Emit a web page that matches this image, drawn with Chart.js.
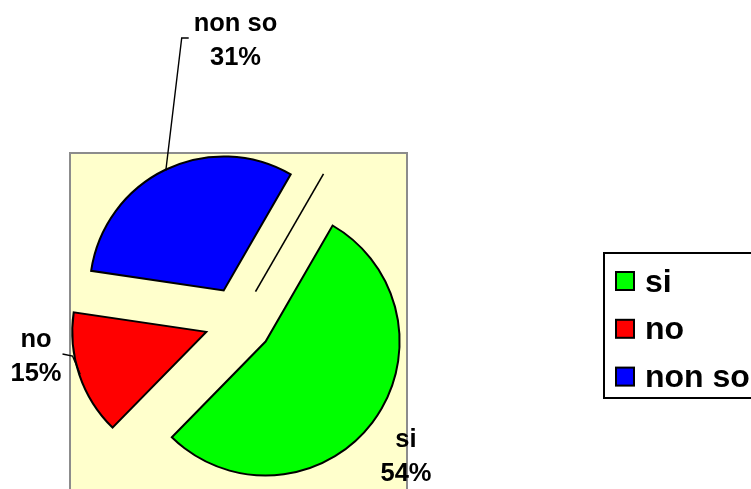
<!DOCTYPE html>
<html>
<head>
<meta charset="utf-8">
<title>si / no / non so</title>
<script src="https://cdn.jsdelivr.net/npm/chart.js@4/dist/chart.umd.min.js"></script>
<style>
  html, body { margin: 0; padding: 0; background: #fff; overflow: hidden; }
  canvas { display: block; }
</style>
</head>
<body>
<canvas id="pie" width="751" height="489"></canvas>
<script>
// --- data ---
const labels = ['si', 'no', 'non so'];
const values = [54, 15, 31];
const colors = ['#00ff00', '#ff0000', '#0000ff'];

const FONT = '"Liberation Sans", Arial, sans-serif';

// yellow plot area with grey frame (bottom edge runs off the picture)
const plotArea = {
  id: 'plotArea',
  beforeDraw(chart, args, opts) {
    const { ctx, chartArea: a } = chart;
    ctx.save();
    ctx.fillStyle = opts.fill;
    ctx.fillRect(a.left, a.top, a.right - a.left, a.bottom - a.top + 20);
    ctx.strokeStyle = opts.stroke;
    ctx.lineWidth = 2;
    ctx.strokeRect(a.left, a.top, a.right - a.left, a.bottom - a.top + 20);
    ctx.restore();
  }
};

// pull every slice out along its mid angle (like Excel's exploded pie)
const explode = {
  id: 'explode',
  afterDatasetUpdate(chart, args, opts) {
    args.meta.data.forEach(arc => {
      const mid = (arc.startAngle + arc.endAngle) / 2;
      arc.x += Math.cos(mid) * opts.distance;
      arc.y += Math.sin(mid) * opts.distance;
    });
  },
  afterDatasetsDraw(chart, args, opts) {
    // stray edge line left over from the unexploded pie
    const { ctx, chartArea: a } = chart;
    const arc = chart.getDatasetMeta(0).data[0];
    const cx = (a.left + a.right) / 2, cy = (a.top + a.bottom) / 2;
    const ang = arc.startAngle, r0 = opts.distance, r1 = arc.outerRadius + opts.distance + 2;
    ctx.save();
    ctx.strokeStyle = '#000';
    ctx.lineWidth = 1.6;
    ctx.beginPath();
    ctx.moveTo(cx + Math.cos(ang) * r0, cy + Math.sin(ang) * r0);
    ctx.lineTo(cx + Math.cos(ang) * r1, cy + Math.sin(ang) * r1);
    ctx.stroke();
    ctx.restore();
  }
};

// "name / pct%" labels with leader lines
const sliceLabels = {
  id: 'sliceLabels',
  afterDatasetsDraw(chart, args, opts) {
    const { ctx, chartArea: a } = chart;
    const cx = (a.left + a.right) / 2, cy = (a.top + a.bottom) / 2;
    const total = values.reduce((s, v) => s + v, 0);
    const arcs = chart.getDatasetMeta(0).data;
    ctx.save();
    ctx.font = 'bold ' + opts.size + 'px ' + FONT;
    ctx.fillStyle = '#000';
    ctx.textAlign = 'center';
    ctx.textBaseline = 'alphabetic';
    labels.forEach((name, i) => {
      const p = opts.positions[i];
      const x = cx + p.dx, y = cy + p.dy;
      const lines = [name, Math.round(values[i] / total * 100) + '%'];
      lines.forEach((t, k) => ctx.fillText(t, x, y + k * opts.lineHeight));
      if (!p.leader) return;
      const arc = arcs[i];
      const mid = (arc.startAngle + arc.endAngle) / 2;
      const ax = arc.x + Math.cos(mid) * (arc.outerRadius - 1);
      const ay = arc.y + Math.sin(mid) * (arc.outerRadius - 1);
      const w = Math.max(...lines.map(t => ctx.measureText(t).width));
      const ly = y + 7;
      let ex, bx;
      if (ax < x) { ex = x - w / 2 - 5; bx = ex - 7; }
      else { ex = x + w / 2 + 1; bx = ex + 10; }
      ctx.strokeStyle = '#000';
      ctx.lineWidth = 1.4;
      ctx.beginPath();
      ctx.moveTo(ex, ly);
      ctx.lineTo(bx, ly + (ax < x ? 0 : 2));
      ctx.lineTo(ax, ay);
      ctx.stroke();
    });
    ctx.restore();
  }
};

// boxed legend on the right
const boxLegend = {
  id: 'boxLegend',
  afterDraw(chart, args, opts) {
    const { ctx } = chart;
    ctx.save();
    ctx.strokeStyle = '#000';
    ctx.lineWidth = 2;
    ctx.strokeRect(opts.left, opts.top, 200, opts.height);
    ctx.font = 'bold ' + opts.size + 'px ' + FONT;
    ctx.textBaseline = 'alphabetic';
    labels.forEach((name, i) => {
      const yc = opts.firstRow + i * opts.rowGap;
      ctx.fillStyle = colors[i];
      ctx.fillRect(opts.left + 12, yc - 9, 18, 18);
      ctx.lineWidth = 2;
      ctx.strokeRect(opts.left + 12, yc - 9, 18, 18);
      ctx.fillStyle = '#000';
      ctx.fillText(name, opts.left + 41, yc + 10.5);
    });
    ctx.restore();
  }
};

new Chart(document.getElementById('pie'), {
  type: 'pie',
  data: {
    labels: labels,
    datasets: [{
      data: values,
      backgroundColor: colors,
      borderColor: '#000',
      borderWidth: 2,
      borderJoinStyle: 'miter'
    }]
  },
  options: {
    responsive: false,
    devicePixelRatio: 1,
    animation: false,
    rotation: 30,
    radius: 134,
    layout: { padding: { left: 70, right: 344, top: 153, bottom: 0 } },
    plugins: {
      legend: { display: false },
      tooltip: { enabled: false },
      plotArea: { fill: '#ffffcc', stroke: '#8c8c8c' },
      explode: { distance: 34 },
      sliceLabels: {
        size: 25.5,
        lineHeight: 34,
        positions: [
          { dx: 167.5, dy: 126, leader: false },
          { dx: -202.5, dy: 26, leader: true },
          { dx: -3, dy: -290, leader: true }
        ]
      },
      boxLegend: { left: 604, top: 253, height: 145, firstRow: 281, rowGap: 47.8, size: 32 }
    }
  },
  plugins: [plotArea, explode, sliceLabels, boxLegend]
});
</script>
</body>
</html>
